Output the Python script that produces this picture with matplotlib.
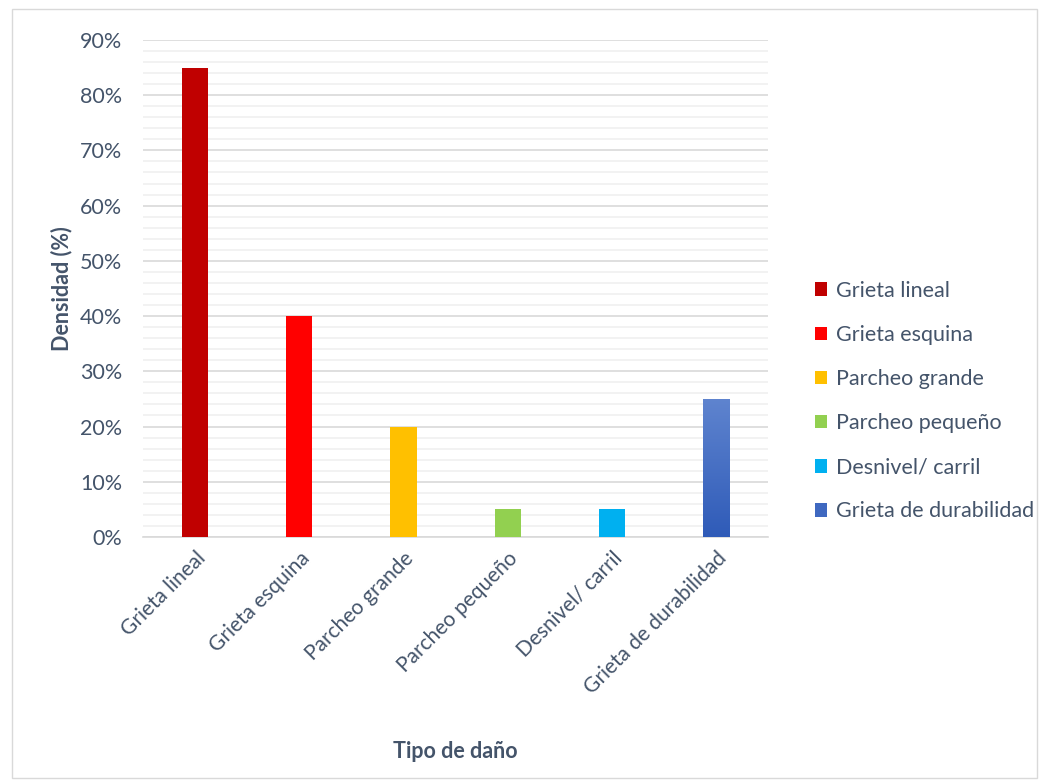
import matplotlib.pyplot as plt
import numpy as np
from matplotlib.patches import Rectangle
from matplotlib.colors import LinearSegmentedColormap
from matplotlib.ticker import MultipleLocator, PercentFormatter

categories = ["Grieta lineal", "Grieta esquina", "Parcheo grande",
              "Parcheo pequeño", "Desnivel/ carril", "Grieta de durabilidad"]
densidad = [0.85, 0.40, 0.20, 0.05, 0.05, 0.25]
colors = ["#C00000", "#FF0000", "#FFC000", "#92D050", "#00B0F0", "#3F68C0"]

text_color = "#44546A"
plt.rcParams["font.family"] = ["Lato", "DejaVu Sans"]

fig = plt.figure(figsize=(10.49, 7.83), dpi=100)
ax = fig.add_axes([0.1363, 0.3142, 0.596, 0.6348])

x = np.arange(len(categories))
bars = ax.bar(x, densidad, width=0.25, color=colors, label=categories, zorder=3)

# gradient on the last bar
last = bars[-1]
grad = np.linspace(0, 1, 256).reshape(-1, 1)
cmap = LinearSegmentedColormap.from_list("blu", ["#2F5BB8", "#5F84CF"])
bx, bw, bh = last.get_x(), last.get_width(), last.get_height()
im = ax.imshow(grad, extent=(bx, bx + bw, 0, bh), origin="lower", cmap=cmap,
               aspect="auto", zorder=4)
im.set_clip_path(last)

ax.set_xlim(-0.5, len(categories) - 0.5)
ax.set_ylim(0, 0.9)
ax.yaxis.set_major_locator(MultipleLocator(0.1))
ax.yaxis.set_minor_locator(MultipleLocator(0.02))
ax.yaxis.set_major_formatter(PercentFormatter(1.0, decimals=0))
ax.grid(axis="y", which="major", color="#D9D9D9", lw=1.2, zorder=0)
ax.grid(axis="y", which="minor", color="#F0F0F0", lw=1.2, zorder=0)
ax.tick_params(axis="both", which="both", length=0, colors=text_color, labelsize=15.5)
ax.tick_params(axis="y", pad=15)
ax.tick_params(axis="x", pad=8)
for s in ["top", "right", "left"]:
    ax.spines[s].set_visible(False)
ax.spines["bottom"].set_color("#D9D9D9")
ax.spines["bottom"].set_linewidth(1.2)

ax.set_xticks(x)
ax.set_xticklabels(categories, rotation=45, ha="right", rotation_mode="anchor",
                   color=text_color, fontsize=15)
ax.set_ylabel("Densidad (%)", fontsize=15.5, fontweight="bold", color=text_color)
ax.set_xlabel("Tipo de daño", fontsize=15.5, fontweight="bold", color=text_color)
ax.xaxis.set_label_coords(0.5, -0.41)
ax.yaxis.set_label_coords(-0.113, 0.5)

handles, labels = ax.get_legend_handles_labels()
leg = fig.legend(handles, labels, loc="upper left", bbox_to_anchor=(0.758, 0.666),
                 frameon=False, fontsize=15.5, handlelength=0.6, handleheight=0.6,
                 handletextpad=0.4, labelspacing=1.12)
for t in leg.get_texts():
    t.set_color(text_color)

fig.patches.append(Rectangle((0.011, 0.006), 0.978, 0.982, transform=fig.transFigure,
                             fill=False, edgecolor="#D9D9D9", lw=1))

fig.savefig("out.png", dpi=100)
